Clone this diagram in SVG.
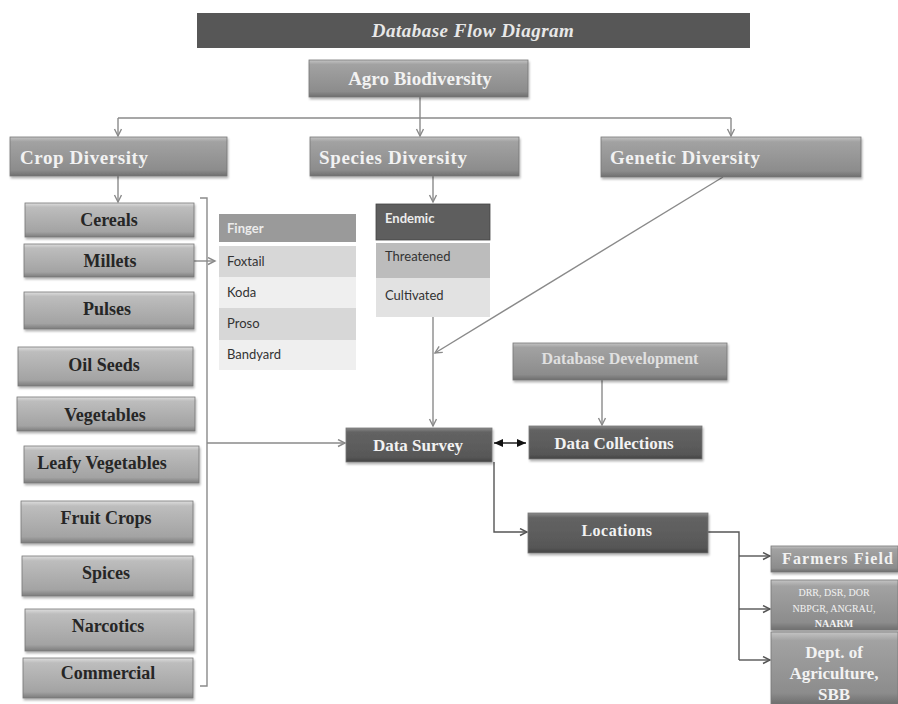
<svg xmlns="http://www.w3.org/2000/svg" width="898" height="704" viewBox="0 0 898 704">
<defs>
<linearGradient id="gMid" x1="0" y1="0" x2="0" y2="1">
<stop offset="0" stop-color="#c4c4c4"/><stop offset="0.12" stop-color="#a2a2a2"/><stop offset="0.85" stop-color="#8c8c8c"/><stop offset="1" stop-color="#6e6e6e"/>
</linearGradient>
<linearGradient id="gLight" x1="0" y1="0" x2="0" y2="1">
<stop offset="0" stop-color="#dedede"/><stop offset="0.12" stop-color="#bdbdbd"/><stop offset="0.85" stop-color="#a3a3a3"/><stop offset="1" stop-color="#7c7c7c"/>
</linearGradient>
<linearGradient id="gDark" x1="0" y1="0" x2="0" y2="1">
<stop offset="0" stop-color="#8a8a8a"/><stop offset="0.12" stop-color="#636363"/><stop offset="0.85" stop-color="#575757"/><stop offset="1" stop-color="#444"/>
</linearGradient>
<filter id="sh" x="-5%" y="-10%" width="110%" height="130%">
<feDropShadow dx="1" dy="2" stdDeviation="1.2" flood-color="#000" flood-opacity="0.3"/>
</filter>
<marker id="ar" markerWidth="10" markerHeight="10" refX="8" refY="4" orient="auto" markerUnits="userSpaceOnUse">
<path d="M1,0.5 L8,4 L1,7.5" fill="none" stroke="#8a8a8a" stroke-width="1.4"/>
</marker>
<marker id="ard" markerWidth="10" markerHeight="10" refX="8" refY="4" orient="auto" markerUnits="userSpaceOnUse">
<path d="M1,0.5 L8,4 L1,7.5" fill="none" stroke="#555" stroke-width="1.4"/>
</marker>
<marker id="arb" markerWidth="10" markerHeight="10" refX="9" refY="4" orient="auto-start-reverse" markerUnits="userSpaceOnUse">
<path d="M0,0 L9,4 L0,8 Z" fill="#111"/>
</marker>
</defs>
<style>
.box{filter:url(#sh);stroke:#777;stroke-width:0.8}
.mid{fill:url(#gMid)}
.light{fill:url(#gLight)}
.dark{fill:url(#gDark)}
.tw{font-family:"Liberation Serif",serif;font-weight:bold;fill:#f2f2f2}
.tk{font-family:"Liberation Serif",serif;font-weight:bold;fill:#262626;font-size:18px;text-anchor:middle}
.tc{font-family:Lato,"Open Sans",sans-serif;font-size:13px;fill:#333}
.th{font-family:Lato,"Open Sans",sans-serif;font-size:13px;font-weight:bold;fill:#ececec}
.c{fill:none;stroke:#8a8a8a;stroke-width:1.4}
.cd{fill:none;stroke:#555;stroke-width:1.4}
</style>

<g id="title">
<rect x="197" y="13" width="553" height="35" fill="#575757"/>
<text x="473" y="37" font-family="Liberation Serif,serif" font-style="italic" font-weight="bold" font-size="19" fill="#e8e8e8" text-anchor="middle" letter-spacing="0.5">Database Flow Diagram</text>
</g>

<g id="connectors">
<line class="c" x1="420" y1="97" x2="420" y2="118"/>
<line class="c" x1="118" y1="118" x2="731" y2="118"/>
<line class="c" x1="118" y1="118" x2="118" y2="136" marker-end="url(#ar)"/>
<line class="c" x1="420" y1="118" x2="420" y2="136" marker-end="url(#ar)"/>
<line class="c" x1="731" y1="118" x2="731" y2="136" marker-end="url(#ar)"/>
<line class="c" x1="118" y1="176" x2="118" y2="202" marker-end="url(#ar)"/>
<line class="c" x1="433" y1="176" x2="433" y2="202" marker-end="url(#ar)"/>
<line class="c" x1="194" y1="261" x2="215" y2="261" marker-end="url(#ar)"/>
<path class="c" d="M200,198 L207,198 L207,686 L200,686"/>
<line class="c" x1="207" y1="443" x2="345" y2="443" marker-end="url(#ar)"/>
<line class="c" x1="433" y1="317" x2="433" y2="426" marker-end="url(#ar)"/>
<line class="c" x1="723" y1="177" x2="435" y2="353" marker-end="url(#ar)"/>
<line class="c" x1="602" y1="380" x2="602" y2="425" marker-end="url(#ar)"/>
<line x1="494" y1="443" x2="526" y2="443" stroke="#111" stroke-width="1.4" marker-start="url(#arb)" marker-end="url(#arb)"/>
<path class="cd" d="M494,462 L494,532 L527,532" marker-end="url(#ard)"/>
<path class="cd" d="M708,532 L739,532 L739,660"/>
<line class="cd" x1="739" y1="556" x2="770" y2="556" marker-end="url(#ard)"/>
<line class="cd" x1="739" y1="609" x2="770" y2="609" marker-end="url(#ard)"/>
<line class="cd" x1="739" y1="660" x2="770" y2="660" marker-end="url(#ard)"/>
</g>

<g id="agro"><rect class="box mid" x="309" y="60" width="219" height="37"/><text class="tw" x="420" y="85" font-size="19" text-anchor="middle">Agro Biodiversity</text></g>
<g id="crop-diversity"><rect class="box mid" x="10" y="137" width="217" height="39"/><text class="tw" x="20" y="164" font-size="19" textLength="128">Crop Diversity</text></g>
<g id="species-diversity"><rect class="box mid" x="310" y="137" width="209" height="39"/><text class="tw" x="319" y="164" font-size="19" textLength="148">Species Diversity</text></g>
<g id="genetic-diversity"><rect class="box mid" x="601" y="137" width="260" height="40"/><text class="tw" x="610" y="164" font-size="19" textLength="150">Genetic Diversity</text></g>

<g id="cereals"><rect class="box light" x="25" y="203" width="169" height="34"/><text class="tk" x="109" y="226">Cereals</text></g>
<g id="millets"><rect class="box light" x="24" y="244" width="170" height="33"/><text class="tk" x="110" y="267">Millets</text></g>
<g id="pulses"><rect class="box light" x="24" y="292" width="170" height="37"/><text class="tk" x="107" y="315">Pulses</text></g>
<g id="oil-seeds"><rect class="box light" x="18" y="347" width="175" height="39"/><text class="tk" x="104" y="371">Oil Seeds</text></g>
<g id="vegetables"><rect class="box light" x="17" y="397" width="178" height="34"/><text class="tk" x="105" y="421">Vegetables</text></g>
<g id="leafy-vegetables"><rect class="box light" x="24" y="446" width="175" height="37"/><text class="tk" x="102" y="469">Leafy Vegetables</text></g>
<g id="fruit-crops"><rect class="box light" x="21" y="501" width="172" height="42"/><text class="tk" x="106" y="524">Fruit Crops</text></g>
<g id="spices"><rect class="box light" x="22" y="556" width="171" height="40"/><text class="tk" x="106" y="579">Spices</text></g>
<g id="narcotics"><rect class="box light" x="25" y="609" width="169" height="42"/><text class="tk" x="108" y="632">Narcotics</text></g>
<g id="commercial"><rect class="box light" x="23" y="658" width="170" height="40"/><text class="tk" x="108" y="679">Commercial</text></g>

<g id="millet-types">
<rect x="219" y="214" width="137" height="28" fill="#9a9a9a"/>
<text class="th" x="227" y="233">Finger</text>
<rect x="219" y="246" width="137" height="31" fill="#d7d7d7"/>
<text class="tc" x="227" y="266">Foxtail</text>
<rect x="219" y="277" width="137" height="31" fill="#efefef"/>
<text class="tc" x="227" y="297">Koda</text>
<rect x="219" y="308" width="137" height="32" fill="#d7d7d7"/>
<text class="tc" x="227" y="328">Proso</text>
<rect x="219" y="340" width="137" height="30" fill="#efefef"/>
<text class="tc" x="227" y="359">Bandyard</text>
</g>

<g id="species-types">
<rect x="376" y="204" width="114" height="36" fill="#5e5e5e" stroke="#444" stroke-width="0.8"/>
<text class="th" x="385" y="223">Endemic</text>
<rect x="376" y="243" width="114" height="35" fill="#bcbcbc"/>
<text class="tc" x="385" y="261">Threatened</text>
<rect x="376" y="278" width="114" height="39" fill="#e2e2e2"/>
<text class="tc" x="385" y="300">Cultivated</text>
</g>

<g id="database-development"><rect class="box mid" x="513" y="343" width="214" height="37"/><text class="tw" x="620" y="364" font-size="16" text-anchor="middle" style="fill:#e0e0e0">Database Development</text></g>
<g id="data-survey"><rect class="box dark" x="346" y="428" width="146" height="34"/><text class="tw" x="418" y="451" font-size="17" text-anchor="middle">Data Survey</text></g>
<g id="data-collections"><rect class="box dark" x="529" y="426" width="173" height="33"/><text class="tw" x="614" y="449" font-size="17" text-anchor="middle">Data Collections</text></g>
<g id="locations"><rect class="box dark" x="528" y="513" width="180" height="40"/><text class="tw" x="617" y="536" font-size="16" text-anchor="middle" letter-spacing="0.5">Locations</text></g>
<g id="farmers-field"><rect class="box mid" x="771" y="546" width="127" height="26"/><text class="tw" x="782" y="564" font-size="16" textLength="111">Farmers Field</text></g>
<g id="institutes"><rect class="box mid" x="771" y="580" width="127" height="50"/>
<text class="tw" font-size="10" text-anchor="middle" style="font-weight:normal"><tspan x="834" y="596">DRR, DSR, DOR</tspan><tspan x="834" y="612">NBPGR, ANGRAU,</tspan><tspan x="834" y="627" style="font-weight:bold">NAARM</tspan></text></g>
<g id="dept-agriculture"><rect class="box mid" x="771" y="632" width="127" height="72"/>
<text class="tw" font-size="17" text-anchor="middle"><tspan x="834" y="658">Dept.  of</tspan><tspan x="834" y="679">Agriculture,</tspan><tspan x="834" y="700">SBB</tspan></text></g>
</svg>
